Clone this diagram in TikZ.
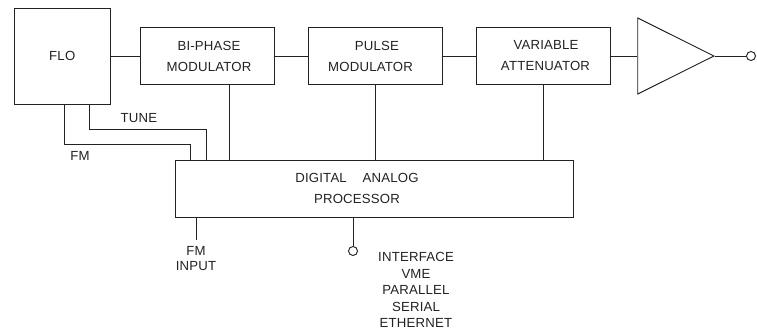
\documentclass[tikz,border=0pt]{standalone}
\usepackage{fontspec}
\setmainfont[LetterSpace=1.5]{Liberation Sans}
\usetikzlibrary{shapes.geometric,calc}
\definecolor{ink}{HTML}{222222}
\tikzset{
  x=1pt,y=-1pt,
  wire/.style={draw=ink,line width=0.95pt},
  blockbox/.style={draw=ink,line width=0.95pt,rectangle,inner sep=0pt,align=center,text=ink,font=\fontsize{13.2}{21}\selectfont},
  label/.style={inner sep=0pt,align=center,text=ink,font=\fontsize{13.2}{15.5}\selectfont},
  port/.style={draw=ink,line width=0.95pt,circle,inner sep=0pt,minimum size=9pt},
  amp/.style={draw=ink,line width=0.95pt,isosceles triangle,isosceles triangle apex angle=53,inner sep=0pt,minimum height=76pt,minimum width=76pt,anchor=apex}
}
\begin{document}
\begin{tikzpicture}
\useasboundingbox (0,0) rectangle (757,333);
\node[blockbox,minimum width=95.5pt,minimum height=96pt] (flo) at (62.25,56) {FLO};
\node[blockbox,minimum width=134pt,minimum height=57pt] (bi) at (207,56) {\hspace*{4pt}BI-PHASE\\\hspace*{4pt}MODULATOR};
\node[blockbox,minimum width=134pt,minimum height=57pt] (pm) at (375,56) {\hspace*{4pt}PULSE\\\hspace{-9pt}MODULATOR};
\node[blockbox,minimum width=134pt,minimum height=57pt] (va) at (543.5,56) {\hspace*{5pt}VARIABLE\\\hspace*{4pt}ATTENUATOR};
\node[amp] (amp) at (715,56) {};
\node[port] (out) at (751,56) {};
\node[blockbox,minimum width=398pt,minimum height=57pt] (proc) at (374,189) {\hspace*{-34pt}\raisebox{-2pt}{\begin{tabular}{@{}c@{}}DIGITAL\hspace{12pt} ANALOG\\PROCESSOR\end{tabular}}};
\node[port] (iface) at (353,251) {};
\node[label] (tune) at (139,118) {TUNE};
\node[label] (fm) at (80,155.5) {FM};
\node[label] (fminput) at (196,258.5) {FM\\INPUT};
\node[label,font=\fontsize{13.2}{16.4}\selectfont] (ifacetext) at (416,290) {INTERFACE\\VME\\PARALLEL\\SERIAL\\ETHERNET};
\coordinate (fmout) at (64,104);
\coordinate (tuneout) at (89,104);
\coordinate (fmin) at (190.5,160.5);
\coordinate (tunein) at (206.5,160.5);
\coordinate (bictl) at (229,160.5);
\coordinate (fmstub) at (196,240);
\draw[wire] (flo.east) -- (bi.west);
\draw[wire] (bi.east) -- (pm.west);
\draw[wire] (pm.east) -- (va.west);
\draw[wire] (va.east) -- (amp.west |- va.east);
\draw[wire] (715,56) -- (out.west);
\draw[wire] (fmout) |- (190.5,144) -- (fmin);
\draw[wire] (tuneout) |- (206.5,129.5) -- (tunein);
\draw[wire] (bictl) -- (bictl |- bi.south);
\draw[wire] (pm.south) -- (pm.south |- proc.north);
\draw[wire] (va.south) -- (va.south |- proc.north);
\draw[wire] (fmstub) -- (fmstub |- proc.south);
\draw[wire] (iface.north) -- (iface.north |- proc.south);
\end{tikzpicture}
\end{document}
